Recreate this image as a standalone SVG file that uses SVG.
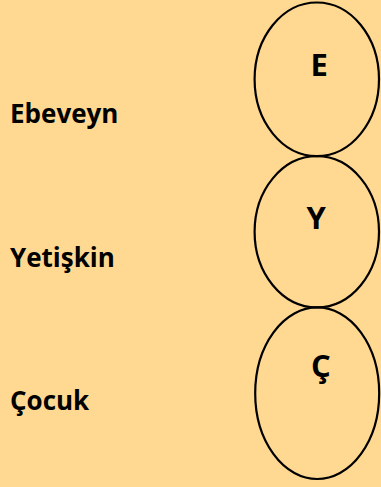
<svg xmlns="http://www.w3.org/2000/svg" width="381" height="487" viewBox="0 0 381 487">
  <style>
    .ring { fill: none; stroke: #000; stroke-width: 2.2; }
    .lbl { font-family: "Open Sans", "Liberation Sans", sans-serif; font-weight: bold; fill: #000; }
    .side { font-size: 26px; }
    .key { font-size: 31px; text-anchor: middle; }
  </style>
  <rect width="381" height="487" fill="#FFD992"/>

  <g id="labels">
    <text class="lbl side" x="10" y="123">Ebeveyn</text>
    <text class="lbl side" x="10" y="266.5">Yetişkin</text>
    <text class="lbl side" x="10" y="409.5">Çocuk</text>
  </g>

  <g id="node-e">
    <ellipse class="ring" cx="316.8" cy="79.3" rx="62.2" ry="76.8"/>
    <text class="lbl key" x="319.2" y="76">E</text>
  </g>
  <g id="node-y">
    <ellipse class="ring" cx="316.8" cy="231.8" rx="62.2" ry="75.6"/>
    <text class="lbl key" x="316.3" y="229">Y</text>
  </g>
  <g id="node-c">
    <ellipse class="ring" cx="317.2" cy="393.2" rx="62" ry="85.8"/>
    <text class="lbl key" x="321" y="376.7">Ç</text>
  </g>

  <g id="connectors"/>
</svg>
